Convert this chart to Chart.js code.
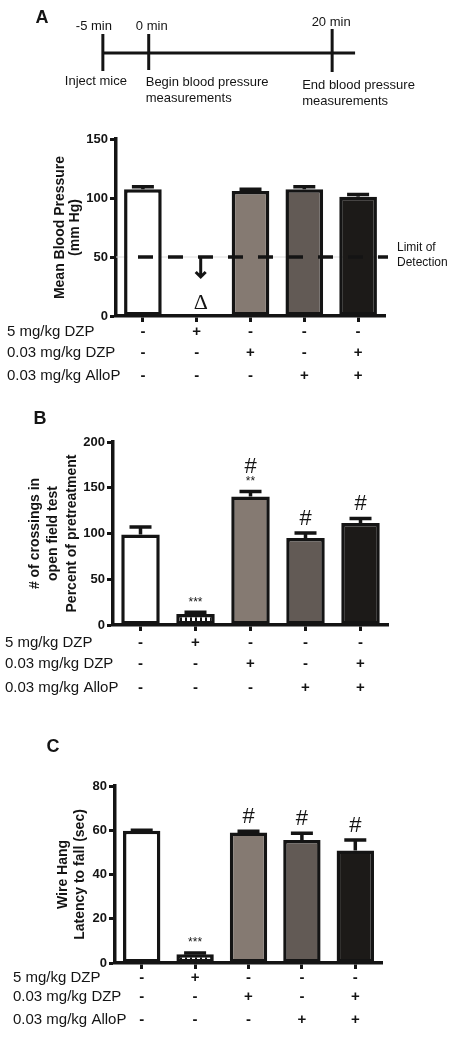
<!DOCTYPE html>
<html>
<head>
<meta charset="utf-8">
<script src="https://cdn.jsdelivr.net/npm/chart.js@4.4.0/dist/chart.umd.min.js"></script>
<style>
html, body { margin: 0; padding: 0; background: #fff; }
#page { position: relative; width: 468px; height: 1050px; }
.panel { position: absolute; left: 0; width: 468px; }
.panel canvas { display: block; }
</style>
</head>
<body>
<div id="page">
    <div class="panel" style="top:0"><canvas id="timeline" width="468" height="120"></canvas></div>
    <div class="panel" style="top:120px"><canvas id="panelA" width="468" height="280"></canvas></div>
    <div class="panel" style="top:400px"><canvas id="panelB" width="468" height="320"></canvas></div>
    <div class="panel" style="top:720px"><canvas id="panelC" width="468" height="330"></canvas></div>
</div>
<script>
const groups = ['Vehicle', '5 mg/kg DZP', '0.03 mg/kg DZP', '0.03 mg/kg AlloP', 'DZP + AlloP'];
const treatmentRows = ['5 mg/kg DZP', '0.03 mg/kg DZP', '0.03 mg/kg AlloP'];
const dzpHigh = ['-', '+', '-', '-', '-'];
const dzpLow = ['-', '-', '+', '-', '+'];
const alloP = ['-', '-', '-', '+', '+'];

const timelineMinutes = [-5, 0, 20];
const timelineTopLabels = ['-5 min', '0 min', '20 min'];
const timelineEvents = [['Inject mice'], ['Begin blood pressure', 'measurements'], ['End blood pressure', 'measurements']];
const timelineEnd = 22.5;

const bpMeans = [107.5, null, 106, 107.5, 101];
const bpSem = [2, null, 1.5, 2, 2];
const bpLimit = 50;

const crossingsMeans = [99, 12, 140.5, 95, 111.5];
const crossingsSem = [8, 2, 5.5, 5.5, 5];
const crossingsStars = ['', '***', '**', '', ''];
const crossingsHash = ['', '', '#', '#', '#'];

const hangMeans = [59.8, 4, 59, 55.6, 50.8];
const hangSem = [0.2, 0.5, 0.6, 3, 4.8];
const hangStars = ['', '***', '', '', ''];
const hangHash = ['', '', '#', '#', '#'];

const FONT = '"Liberation Sans", Arial, sans-serif';
const INK = '#141414';

function stripePattern() {
    const tile = document.createElement('canvas');
    tile.width = 5;
    tile.height = 5;
    const g = tile.getContext('2d');
    g.fillStyle = '#fff';
    g.fillRect(0, 0, 5, 5);
    g.fillStyle = INK;
    g.fillRect(0, 0, 2, 5);
    return g.createPattern(tile, 'repeat');
}

const barColors = ['#ffffff', stripePattern(), '#857a72', '#625a55', '#1c1a18'];

// timeline of panel A
const timelinePlugin = {
    id: 'timelineMarks',
    afterDraw(chart) {
        const { ctx, scales: { x, y } } = chart;
        const lineY = y.getPixelForValue(0);
        const tickUp = [19, 19, 24];
        const tickDown = [18, 17, 19];
        const topDx = [-9, 3, -1];
        const topDy = [27, 27, 31];
        const textDx = [-38, -3, -30];
        const textDy = [28, 29, 32];
        ctx.save();
        ctx.strokeStyle = INK;
        ctx.fillStyle = INK;
        ctx.lineWidth = 3;
        timelineMinutes.forEach((t, i) => {
            const px = x.getPixelForValue(t);
            ctx.beginPath();
            ctx.moveTo(px, lineY - tickUp[i]);
            ctx.lineTo(px, lineY + tickDown[i]);
            ctx.stroke();
            ctx.font = `13px ${FONT}`;
            ctx.textAlign = 'center';
            ctx.textBaseline = 'middle';
            ctx.fillText(timelineTopLabels[i], px + topDx[i], lineY - topDy[i]);
            ctx.textAlign = 'left';
            timelineEvents[i].forEach((line, j) => {
                ctx.fillText(line, px + textDx[i], lineY + textDy[i] + j * 16);
            });
        });
        ctx.font = `bold 18px ${FONT}`;
        ctx.textAlign = 'center';
        ctx.fillText('A', 42, 18);
        ctx.restore();
    }
};

new Chart(document.getElementById('timeline'), {
    type: 'scatter',
    data: {
        datasets: [{
            data: [{ x: timelineMinutes[0], y: 0 }, { x: timelineEnd, y: 0 }],
            showLine: true,
            borderColor: INK,
            borderWidth: 3,
            pointRadius: 0
        }]
    },
    options: {
        responsive: false,
        animation: false,
        layout: { padding: { left: 57, right: 90, top: 0, bottom: 14 } },
        plugins: { legend: { display: false }, tooltip: { enabled: false } },
        scales: {
            x: { display: false, min: -10, max: 25 },
            y: { display: false, min: -1, max: 1 }
        }
    },
    plugins: [timelinePlugin]
});

// error bars, annotations, y title and the treatment table
const panelPlugin = {
    id: 'panelExtras',
    beforeDatasetsDraw(chart, args, opts) {
        if (opts.under) {
            opts.under(chart);
        }
    },
    afterDatasetsDraw(chart, args, opts) {
        const { ctx, scales: { y } } = chart;
        const meta = chart.getDatasetMeta(0);
        const means = chart.data.datasets[0].data;
        ctx.save();
        ctx.strokeStyle = INK;
        ctx.fillStyle = INK;
        ctx.lineWidth = 3.5;
        means.forEach((m, i) => {
            if (m === null) {
                return;
            }
            const bar = meta.data[i];
            const top = y.getPixelForValue(m + opts.sem[i]);
            ctx.beginPath();
            ctx.moveTo(bar.x, y.getPixelForValue(m));
            ctx.lineTo(bar.x, top);
            ctx.moveTo(bar.x - 11, top);
            ctx.lineTo(bar.x + 11, top);
            ctx.stroke();

            let labelY = top - 10;
            if (opts.stars && opts.stars[i]) {
                ctx.font = `12px ${FONT}`;
                ctx.textAlign = 'center';
                ctx.textBaseline = 'middle';
                ctx.fillText(opts.stars[i], bar.x, labelY);
                labelY -= 14;
            } else {
                labelY -= 4;
            }
            if (opts.hash && opts.hash[i]) {
                ctx.font = `22px ${FONT}`;
                ctx.textAlign = 'center';
                ctx.textBaseline = 'middle';
                ctx.fillText(opts.hash[i], bar.x, labelY);
            }
        });
        ctx.restore();
    },
    afterDraw(chart, args, opts) {
        const { ctx, chartArea, scales: { x } } = chart;
        ctx.save();
        ctx.fillStyle = INK;

        // y axis title
        ctx.font = `bold 14px ${FONT}`;
        ctx.textAlign = 'center';
        ctx.textBaseline = 'middle';
        const midY = (chartArea.top + chartArea.bottom) / 2;
        opts.title.forEach((line, i) => {
            ctx.save();
            ctx.translate(opts.titleX[i], midY);
            ctx.rotate(-Math.PI / 2);
            ctx.fillText(line, 0, 0);
            ctx.restore();
        });

        // treatment table
        const signRows = [dzpHigh, dzpLow, alloP];
        treatmentRows.forEach((name, r) => {
            const rowY = chartArea.bottom + opts.rowDy[r];
            ctx.font = `15px ${FONT}`;
            ctx.textAlign = 'left';
            ctx.fillText(name, opts.rowX, rowY);
            ctx.font = `bold 15px ${FONT}`;
            ctx.textAlign = 'center';
            signRows[r].forEach((s, i) => {
                ctx.fillText(s, x.getPixelForValue(i), rowY);
            });
        });

        // panel letter
        if (opts.letter) {
            ctx.font = `bold 18px ${FONT}`;
            ctx.textAlign = 'center';
            ctx.fillText(opts.letter.text, opts.letter.x, opts.letter.y);
        }

        if (opts.extra) {
            opts.extra(chart);
        }
        ctx.restore();
    }
};

function drawLimitGuide(chart) {
    const { ctx, chartArea, scales: { y } } = chart;
    const limitY = y.getPixelForValue(bpLimit);
    ctx.save();
    ctx.strokeStyle = '#dcdcdc';
    ctx.lineWidth = 1;
    ctx.beginPath();
    ctx.moveTo(chartArea.left, limitY);
    ctx.lineTo(chartArea.right, limitY);
    ctx.stroke();
    ctx.restore();
}

function drawDetectionLimit(chart) {
    const { ctx, chartArea, scales: { x, y } } = chart;
    const limitY = y.getPixelForValue(bpLimit);
    ctx.save();
    ctx.strokeStyle = INK;
    ctx.lineWidth = 3.5;
    ctx.setLineDash([15, 15]);
    ctx.beginPath();
    ctx.moveTo(chartArea.left + 22, limitY);
    ctx.lineTo(chartArea.right + 3, limitY);
    ctx.stroke();
    ctx.setLineDash([]);

    // arrow for the group below the limit
    const missing = bpMeans.findIndex((v) => v === null);
    const ax = x.getPixelForValue(missing) + 4;
    ctx.lineWidth = 3;
    ctx.beginPath();
    ctx.moveTo(ax, limitY);
    ctx.lineTo(ax, limitY + 20);
    ctx.moveTo(ax - 5, limitY + 15);
    ctx.lineTo(ax, limitY + 20);
    ctx.lineTo(ax + 5, limitY + 15);
    ctx.stroke();

    ctx.fillStyle = INK;
    ctx.font = `22px "Liberation Serif", serif`;
    ctx.textAlign = 'center';
    ctx.textBaseline = 'middle';
    ctx.fillText('\u0394', ax, chartArea.bottom - 13);

    ctx.font = `12px ${FONT}`;
    ctx.textAlign = 'left';
    ctx.fillText('Limit of', chartArea.right + 12, limitY - 9);
    ctx.fillText('Detection', chartArea.right + 12, limitY + 6);
    ctx.restore();
}

function createBarPanel(canvasId, config) {
    const canvas = document.getElementById(canvasId);
    const box = config.box;
    const axisStyle = {
        display: true,
        drawOnChartArea: false,
        drawTicks: true,
        tickLength: 6,
        tickWidth: 3,
        tickColor: INK,
        offset: false
    };
    return new Chart(canvas, {
        type: 'bar',
        data: {
            labels: groups,
            datasets: [{
                data: config.means,
                backgroundColor: barColors,
                borderColor: INK,
                borderWidth: 3.5,
                borderSkipped: false,
                barPercentage: 0.7,
                categoryPercentage: 1
            }]
        },
        options: {
            responsive: false,
            animation: false,
            layout: { padding: { top: box.top, right: canvas.width - box.right, bottom: 0, left: 0 } },
            plugins: {
                legend: { display: false },
                tooltip: { enabled: false },
                panelExtras: config.extras
            },
            scales: {
                x: {
                    grid: axisStyle,
                    border: { display: true, width: 3.5, color: INK },
                    ticks: { display: false },
                    afterFit: (scale) => { scale.height = canvas.height - box.bottom; }
                },
                y: {
                    min: 0,
                    max: config.max,
                    grid: axisStyle,
                    border: { display: true, width: 3.5, color: INK },
                    ticks: {
                        stepSize: config.step,
                        padding: 2,
                        color: INK,
                        font: { family: FONT, size: 13, weight: 'bold' }
                    },
                    afterFit: (scale) => { scale.width = box.left; }
                }
            }
        },
        plugins: [panelPlugin]
    });
}

createBarPanel('panelA', {
    means: bpMeans,
    max: 150,
    step: 50,
    box: { left: 116, right: 385, top: 19, bottom: 196 },
    extras: {
        sem: bpSem,
        title: ['Mean Blood Pressure', '(mm Hg)'],
        titleX: [60, 75],
        rowDy: [16, 37, 60],
        rowX: 7,
        under: drawLimitGuide,
        extra: drawDetectionLimit
    }
});

createBarPanel('panelB', {
    means: crossingsMeans,
    max: 200,
    step: 50,
    box: { left: 113, right: 388, top: 42, bottom: 225 },
    extras: {
        sem: crossingsSem,
        stars: crossingsStars,
        hash: crossingsHash,
        title: ['# of crossings in', 'open field test', 'Percent of pretreatment'],
        titleX: [35, 53, 72],
        rowDy: [18, 39, 63],
        rowX: 5,
        letter: { text: 'B', x: 40, y: 19 }
    }
});

createBarPanel('panelC', {
    means: hangMeans,
    max: 80,
    step: 20,
    box: { left: 115, right: 382, top: 66, bottom: 243 },
    extras: {
        sem: hangSem,
        stars: hangStars,
        hash: hangHash,
        title: ['Wire Hang', 'Latency to fall (sec)'],
        titleX: [63, 80],
        rowDy: [15, 34, 57],
        rowX: 13,
        letter: { text: 'C', x: 53, y: 27 }
    }
});
</script>
</body>
</html>
